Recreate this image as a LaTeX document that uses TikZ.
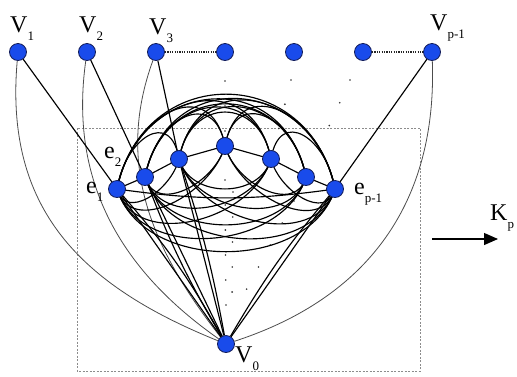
\documentclass[tikz,border=0pt]{standalone}
\usepackage{fontspec}
\usetikzlibrary{arrows.meta,calc}
\setmainfont{Liberation Serif}
\definecolor{nodeblue}{RGB}{25,75,235}
\definecolor{nodeedge}{RGB}{20,30,90}
\begin{document}
\begin{tikzpicture}[x=1pt,y=-1pt,
  vert/.style={circle,fill=nodeblue,draw=nodeedge,line width=0.8pt,minimum size=17pt,inner sep=0pt},
  heavy/.style={line width=1.15pt,black},
  thin/.style={line width=0.8pt,black!70},
  dotline/.style={line width=1.8pt,dash pattern=on 1.2pt off 1.2pt,black!85},
  sparse/.style={line width=1.8pt,line cap=round,dash pattern=on 0pt off 25pt,black!80},
  lab/.style={font=\fontsize{24}{24}\selectfont,inner sep=0pt}]
\useasboundingbox (0,0) rectangle (517,376);
% frame
\draw[black!45,line width=0.8pt,dash pattern=on 2pt off 1.5pt] (77,128) rectangle (420,371);
% nodes
\node[vert] (v1) at (18,52) {};
\node[vert] (v2) at (87,52) {};
\node[vert] (v3) at (156,52) {};
\node[vert] (v4) at (225,52) {};
\node[vert] (v5) at (294,52) {};
\node[vert] (v6) at (363,52) {};
\node[vert] (v7) at (432,52) {};
\node[vert] (v0) at (226,344) {};
\coordinate (e1) at (117,189);
\coordinate (e2) at (145,177);
\coordinate (e3) at (179,159);
\coordinate (e4) at (225,146);
\coordinate (e5) at (271,159);
\coordinate (e6) at (306,177);
\coordinate (e7) at (335,189);
% arcs V_i to V0
\draw[thin] (v1) to[out=-95,in=158,looseness=1.1] (v0);
\draw[thin] (v2) to[out=-98,in=145,looseness=1.0] (v0);
\draw[thin] (v3) to[out=-110,in=128,looseness=1.0] (v0);
\draw[thin] (v7) to[out=-88,in=18,looseness=1.05] (v0);
% dotted horizontal links
\draw[dotline] (v3) -- (v4);
\draw[dotline] (v6) -- (v7);
% sparse dot guides
\draw[sparse] ([yshift=-29pt]v4.center) -- (e4);
\draw[sparse] ([xshift=-3pt,yshift=-28pt]v5.center) -- (e5);
\draw[sparse] ([xshift=-13pt,yshift=-28pt]v6.center) -- (e6);
\draw[sparse] ([yshift=-34pt]e4) -- ([yshift=30pt]v0.center);
\draw[sparse] ([xshift=8pt,yshift=-46pt]e4) -- ([xshift=6pt,yshift=40pt]v0.center);
\draw[sparse] ([xshift=-12pt,yshift=-24pt]e6) -- ([xshift=18pt,yshift=50pt]v0.center);
% straight links V_i to e_i
\draw[heavy] (v1) -- (e1);
\draw[heavy] (v2) -- (e2);
\draw[heavy] (v3) -- (e3);
\draw[heavy] (v7) -- (e7);
% e_i to V0
\foreach \i in {1,2,3,7} \draw[heavy] (e\i) -- (v0);
\draw[heavy] (e1) to[bend left=6] (v0);
\draw[heavy] (e2) to[bend right=5] (v0);
\draw[heavy] (e3) to[bend left=4] (v0);
\draw[heavy] (e7) to[bend right=5] (v0);
% complete graph among e's
\foreach \i/\j in {1/2,2/3,3/4,4/5,5/6,6/7} \draw[heavy] (e\i) -- (e\j);
\foreach \i/\j in {1/3,2/4,3/5,4/6,5/7,1/4,2/5,3/6,4/7,1/5,2/6,3/7,1/6,2/7,1/7}{
  \draw[heavy] let \p1=(e\i), \p2=(e\j), \n1={veclen(\x2-\x1,\y2-\y1)},
     \n2={(0.38*\n1+12)/0.75}, \n3={0.12*\n1} in
     (e\i) .. controls ($(e\i)+(\n3,\n2)$) and ($(e\j)+(-\n3,\n2)$) .. (e\j);
  \draw[heavy] let \p1=(e\i), \p2=(e\j), \n1={veclen(\x2-\x1,\y2-\y1)},
     \n2={(0.26*\n1+6)/0.75}, \n3={0.12*\n1} in
     (e\i) .. controls ($(e\i)+(\n3,-\n2)$) and ($(e\j)+(-\n3,-\n2)$) .. (e\j);
}
\draw[heavy] (e1) to[bend right=8] (e7);
\foreach \i in {1,...,7} \node[vert] (n\i) at (e\i) {};
% arrow
\coordinate (a1) at (432,239);
\coordinate (a2) at (498,239);
\draw[line width=1.2pt,-{Triangle[length=14pt,width=12pt]}] (a1) -- (a2);
% labels
\newcommand{\vlab}[2]{#1\raisebox{-8pt}{\fontsize{13}{13}\selectfont #2}}
\node[lab,anchor=base west] (l1) at (10,32) {\vlab{V}{1}};
\node[lab,anchor=base west] (l2) at (79,32) {\vlab{V}{2}};
\node[lab,anchor=base west] (l3) at (149,34) {\vlab{V}{3}};
\node[lab,anchor=base west] (l7) at (430,30) {\vlab{V}{p-1}};
\node[lab,anchor=base west] (l0) at (235,362) {\vlab{V}{0}};
\node[lab,anchor=base west] (le1) at (86,193) {\vlab{e}{1}};
\node[lab,anchor=base west] (le2) at (104,158) {\vlab{e}{2}};
\node[lab,anchor=base west] (le7) at (354,194) {\vlab{e}{p-1}};
\node[lab,anchor=base west] (lk) at (490,220) {\vlab{K}{p}};
\end{tikzpicture}
\end{document}
